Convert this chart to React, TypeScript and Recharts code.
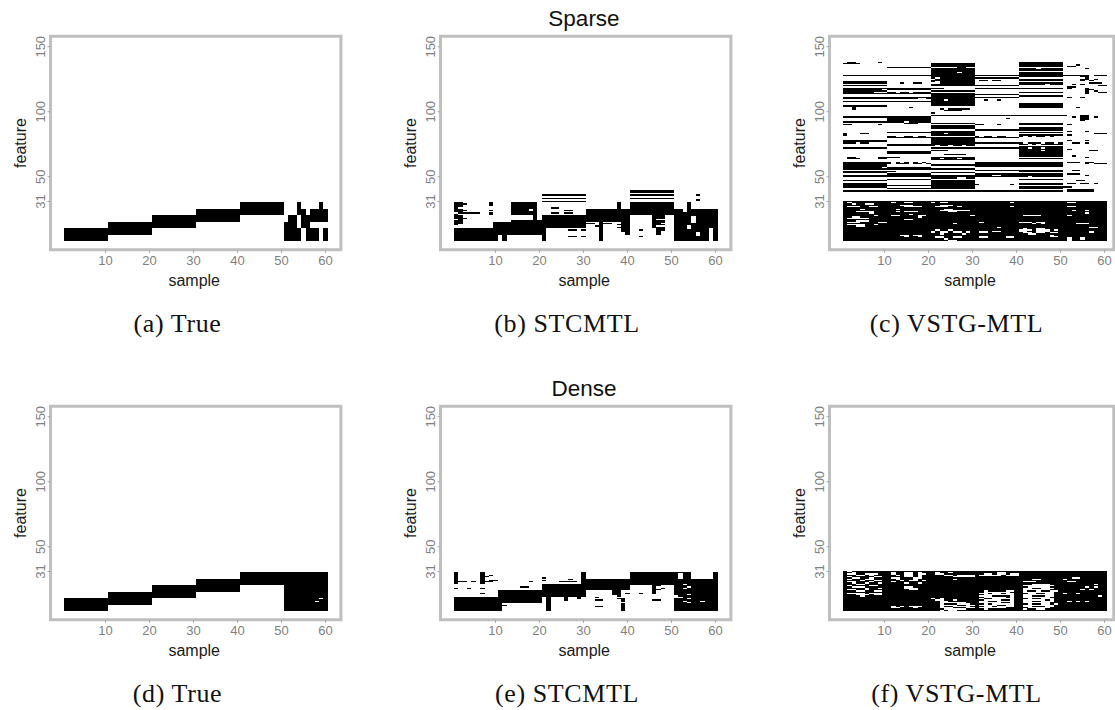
import React from "react";
import { ComposedChart, XAxis, YAxis, ReferenceArea, Label } from "recharts";

// Axis ticks
const SAMPLE_TICKS = [10, 20, 30, 40, 50, 60];
const FEATURE_TICKS = [31, 50, 100, 150];
const X_MIN = -2.5;
const X_MAX_BY_COL = [63.5, 63.5, 62.1]; // right-hand panels are cropped a little tighter
const Y_DOMAIN: [number, number] = [-6.2, 158.1];
const PX_PER_SAMPLE = 4.4;

// Binary support matrices. One string per feature, from the top feature down to feature 1.
// Each token covers 10 samples: "0" = all empty, "1" = all selected, otherwise per-sample (#/.)
const TRUE_SPARSE = [
  "0 0 0 0 1 ...#....#.", "0 0 0 0 1 ...#....#.", "0 0 0 0 1 ...#....#.", "0 0 0 0 1 ...#....#.", "0 0 0 0 1 ...#....#.",
  "0 0 0 1 1 ...##.####", "0 0 0 1 1 ...##.####", "0 0 0 1 1 ...##.####", "0 0 0 1 1 ...##.####", "0 0 0 1 1 ...##.####",
  "0 0 1 1 0 .##.######", "0 0 1 1 0 .##.######", "0 0 1 1 0 .##.######", "0 0 1 1 0 .##.######", "0 0 1 1 0 .##.######",
  "0 1 1 0 0 ###.##....", "0 1 1 0 0 ###.##....", "0 1 1 0 0 ###.##....", "0 1 1 0 0 ###.##....", "0 1 1 0 0 ###.##....",
  "1 1 0 0 0 ####.###.#", "1 1 0 0 0 ####.###.#", "1 1 0 0 0 ####.###.#", "1 1 0 0 0 ####.###.#", "1 1 0 0 0 ####.###.#",
  "1 0 0 0 0 ####.###.#", "1 0 0 0 0 ####.###.#", "1 0 0 0 0 ####.###.#", "1 0 0 0 0 ####.###.#", "1 0 0 0 0 ####.###.#",
];

const STCMTL_SPARSE = [
  "0 0 0 0 1 0",
  "0 0 0 0 1 0",
  "",
  "0 0 1 0 1 .....#....",
  "",
  "",
  "0 0 1 0 1 0",
  "0 0 0 0 0 .....#....",
  "0 0 1 0 0 0",
  "##......#. ...######. 0 .......#.. 1 ...#......",
  "###.....#. ...######. 0 .......#.. 1 ...#......",
  "##......#. ...######. 0 .......#.. 1 ...#......",
  "##........ ...######. 0 .......#.. 1 ...#......",
  "#......... ...######. ..##...... .......#.. 1 ...#......",
  "##........ ...####.#. 0 1 1 ##.#######",
  "###.....#. ...####.#. .....##... 1 1 ##.#######",
  "##........ ...######. 0 1 1 ##.#######",
  ".#####..#. ...######. ..##.##... 1 1 1",
  "#.......#. ...######. 0 1 1 1",
  "##........ ........#. 1 1 .....###.. 1",
  "##........ ........#. 1 1 .....###.. ####.#####",
  "###....... ........#. 1 1 .....###.. ####.#####",
  ".#........ ........#. 1 1 .....#.... ####.#####",
  "##........ ...####### 1 1 .....###.. ####.#####",
  "##.......# 1 1 ...#....## .....###.. ####.#####",
  "##.......# 1 1 ##.###..## .....##... 1",
  "#........# 1 1 ...#...### .....###.. 1",
  ".........# 1 1 ..##....## .....#.... ###.######",
  ".........# 1 1 ...#...### .....###.. ###.######",
  "1 1 #......... ...#....## ......##.. ###.####.#",
  "1 1 #.....##.# ...#....## ..#...##.. ########.#",
  "1 1 #......... ...#....## ......#... ########.#",
  "1 1 #......... ...#.....# ......#... #####.##.#",
  "1 1 #......... ...#.....# ......#... #####.##.#",
  "1 .#........ #......... ...#...... 0 #####.##.#",
  "1 .#........ #.....##.# ...#...... ..#....... ########.#",
  "1 .#........ #......... ...#...... 0 ########.#",
  "1 .#........ #......... ...#...... 0 ########.#",
  "1 .#........ #......... ...#...... 0 ########.#",
];

const VSTG_SPARSE = [
  ".##.....#. 0 0 0 1 0",
  "####...... 0 1 0 1 0",
  "0 0 1 0 1 ...#......",
  "0 0 1 0 1 .##.......",
  "0 1 ......##.. 0 0 0",
  "0 0 1 0 ####.##### .....#....",
  "0 0 1 0 1 0",
  "0 0 1 0 0 0",
  "0 0 ######.### 0 1 0",
  "0 0 1 0 1 0",
  "1 1 1 1 1 ######.###",
  "0 0 1 0 1 ....##....",
  "0 0 #.######## 1 0 .....#....",
  "0 0 .######### 0 1 ....##.#..",
  "0 0 1 .##.##.... 1 ....#.#...",
  "1 0 #.######## 0 0 0",
  "1 ...#..##.. ..######## 0 1 ......###.",
  "0 0 1 0 ######.### ..#.#.....",
  "1 0 1 1 0 ........##",
  "0 0 0 0 0 .##.......",
  "1 1 ###....... 1 1 .#...#....",
  "#########. 1 0 0 0 .....##...",
  "1 0 1 0 0 .....#.#..",
  "#######... ##.##.#### 0 0 1 .....#..##",
  "1 1 1 0 0 .....#....",
  "0 0 1 1 0 0",
  "0 0 1 0 1 0",
  "1 1 1 1 0 .#..#.....",
  "1 #######..# 1 0 0 0",
  "0 0 ###.###### ..#..#.... 0 0",
  "1 1 1 0 0 0",
  "0 0 1 0 0 0",
  "0 0 1 0 1 0",
  "1 0 1 0 1 0",
  "1 0 0 0 1 0",
  "..#....... .....#.... 0 0 1 ...#......",
  "..#....... 0 ..#.#####. 0 0 0",
  "0 0 ...####... 0 0 0",
  "",
  "0 0 #......... 0 0 0",
  "",
  "0 0 1 1 1 #...##....",
  "1 1 0 0 0 ..#.##.#..",
  "0 1 0 .......#.. 0 ....##....",
  "0 1 0 0 0 ....##....",
  "0 1 0 0 0 ....#.....",
  "1 ####.##### 0 0 0 0",
  "0 ....###... 1 0 1 0",
  "##......#. 0 0 ##...#.... 1 .#........",
  "0 0 1 0 0 0",
  "0 0 1 0 1 0",
  "0 0 1 0 1 0",
  "0 0 0 1 1 0",
  "0 0 1 0 0 .#...#....",
  "0 1 1 0 1 0",
  "#...##.... 0 ###.###### 0 0 .......###",
  "#......... 0 1 0 1 .#........",
  "0 ##..##.##. 0 #.##.##... #.#.##.#.. 0",
  "0 1 1 1 0 0",
  "0 0 1 0 0 0",
  "1 0 1 0 0 .#...#....",
  "1 0 1 0 0 0",
  "###.##.... 0 1 1 #.###.##.# ..##.#....",
  "0 1 1 0 ##.#.##### 0",
  "0 1 #.##.##.## 0 0 0",
  "0 0 0 0 1 0",
  "1 0 1 1 ##.##.#### 0",
  "0 0 0 0 1 .#........",
  "0 0 ####...... 0 #####.#### ......##..",
  "0 1 0 0 1 0",
  "0 1 0 0 1 0",
  "0 0 ...#####.. 0 1 0",
  "0 0 0 0 1 ..#.......",
  ".##.....## ###....... 1 0 0 .....#....",
  ".###....## 0 ##.###.### 0 1 0",
  "0 0 1 0 0 0",
  "",
  "1 #.#.#.#.#. 0 1 1 .###.##...",
  "1 #.###.##.# 0 1 1 .....#.###",
  "1 0 1 1 1 0",
  "1 0 0 1 1 0",
  "#########. 1 0 0 0 0",
  "1 1 1 0 0 0",
  "0 0 0 1 1 ..##......",
  "1 ##........ 0 0 1 0",
  "1 0 1 0 0 0",
  "0 1 0 1 1 .###......",
  "1 1 1 ####..#### 1 .....#....",
  "1 1 1 1 ##.####### 0",
  "0 0 ######..## 0 0 0",
  "0 1 0 0 1 0",
  "1 0 1 0 0 ...##.....",
  "0 0 1 0 0 0",
  "1 0 1 0 1 .##.##.#..",
  "1 0 1 #.......#. 1 0",
  "1 1 1 0 0 0",
  "1 0 1 0 1 ##........",
  "0 1 1 0 1 0",
  "0 0 0 0 0 .######...",
  "1 1 1 1 1 .######...",
  "", "", "", "", "", "", "",
  "1 1 1 1 1 1",
  "#.######## #.##..#### .#..###### ########.# 1 #..#######",
  "##.##..### 1 1 1 1 1",
  "1 ###...#### ##...##### 1 1 1",
  "#...##..## ####....## #...##.### ########.# 1 #..#######",
  "1 1 1 1 1 1",
  "####.##### ##.####### ###..##### 1 1 1",
  "1 1 ##.......# 1 1 ##.##.####",
  "###....### ##.#...### ####..#### 1 1 1",
  "######.### 1 1 1 1 #####.####",
  "1 #####.#### 1 1 1 1",
  "#######.## #..####..# #########. 1 #....##### #.########",
  "##..###### #######.## 1 1 1 1",
  "#.....#### 1 1 1 1 1",
  "1 ####..#### 1 1 1 1",
  "###...#### 1 1 1 1 1",
  "#...####.. 1 1 #.######## ...#..#### 1",
  "1 1 #####.#### 1 ###.#.#### ###...####",
  "#....##.## 1 1 1 1 1",
  "###..##### 1 1 1 1 1",
  "1 1 1 #####.#### 1 ######..##",
  "1 1 1 1 #.##..#### 1",
  "1 1 #.##.##### 1 ...#...#.# 1",
  "1 1 .#..#..#.# #..#..#### ..##...### ######.###",
  "1 1 .#..#..#.# #..####### #..#..#..# ######.###",
  "1 1 ##.####.## 1 ##..###### 1",
  "1 ###..#..## 1 1 #######.## 1",
  "1 ####.##.## #..##..### #..####..# #######..# 1",
  "1 1 #..##..### #..####..# 1 #.##.#####",
  "1 1 ###.###### 1 1 #.##.#####",
  "1 1 ####..#### 1 1 #.########",
];

const TRUE_DENSE = [
  "0 0 0 0 1 1", "0 0 0 0 1 1", "0 0 0 0 1 1", "0 0 0 0 1 1", "0 0 0 0 1 1",
  "0 0 0 1 1 1", "0 0 0 1 1 1", "0 0 0 1 1 1", "0 0 0 1 1 1", "0 0 0 1 1 1",
  "0 0 1 1 0 1", "0 0 1 1 0 1", "0 0 1 1 0 1", "0 0 1 1 0 1", "0 0 1 1 0 1",
  "0 1 1 0 0 1", "0 1 1 0 0 1", "0 1 1 0 0 1", "0 1 1 0 0 1", "0 1 1 0 0 1",
  "1 1 0 0 0 ########.#", "1 1 0 0 0 1", "1 1 0 0 0 #######.##", "1 1 0 0 0 1", "1 1 0 0 0 1",
  "1 0 0 0 0 1", "1 0 0 0 0 1", "1 0 0 0 0 1", "1 0 0 0 0 1", "1 0 0 0 0 1",
];

const STCMTL_DENSE = [
  "#.....#... 0 .........# 0 1 ####.....#",
  "#.....#... 0 .........# 0 1 #.##.....#",
  "#.....#.#. 0 .........# 0 1 #.##.....#",
  "#.....##.. 0 .........# 0 1 #.##.....#",
  "#.....#... 0 #........# 0 1 #.##.....#",
  "#.....#... 0 ......#..# 1 1 1",
  "#.....#.## 0 #........# 1 1 1",
  "###.#.###. .......#.. ....####.# 1 1 1",
  "#.....#... 0 .........# 1 1 1",
  "0 0 1 1 1 ##.#######",
  "0 0 1 1 .....##... 1",
  "0 .....##... 1 1 .....#.... ###.######",
  "#..#..#... 0 1 1 .....#.#.. ##.#######",
  "0 0 1 1 .....##... 1",
  "0 1 1 ......##.. .....#.... 1",
  "0 1 1 ......##.. .....#.... 1",
  "......#... 1 1 ......##.# ..#..#.... 1",
  "0 1 1 ......##.. 0 ###.######",
  "0 1 1 .......#.. 0 .#########",
  "1 1 .#...#..#. ..#....... 0 ..########",
  "1 1 .#...#..#. .......##. 0 ###.######",
  "1 1 .#...#.... ..##....#. .....##... 1",
  "1 1 .#........ ........#. 0 ##.###.###",
  "1 1 .#........ 0 0 ###.######",
  "1 #......... .#........ ........#. 0 1",
  "1 ##........ .#........ ........#. 0 1",
  "1 #......... .#........ ..##....#. 0 1",
  "1 #......... .#........ ........#. 0 1",
  "1 #......... .#........ ........#. 0 1",
  "1 #......... .#........ ........#. 0 1",
];

const VSTG_DENSE = [
  "#.######## 1 1 1 1 1",
  "##.####### #.##..#.## #.##.##### #####..### 1 1",
  "#..##...## #.##..#..# #..####### ##..#..#.. 1 1",
  "###..#.### ##.#..#.## ###..#.... #.....#... 1 1",
  "#.#####..# ####..#.## #####..... 1 1 1",
  "##..##.### #..###..## 1 1 1 ##..######",
  "#.###..### ##.###.### #####.#### 1 ###..##### .#########",
  "####.##..# ###.#..#.# 1 1 1 1",
  "#..###.### #.######## 1 1 #...###### #..#######",
  "##.##.##.# ####.##.## 1 1 1 1",
  "###..##### 1 1 1 ###....### #######.##",
  "#.####..## 1 1 1 #.......## 1",
  "##...##### ####..#### 1 1 ##.....### #####.#.##",
  "#####.##.# ####...### 1 1 #..##...## 1",
  "#..##.#### #####..### 1 1 #......### ####.#.###",
  "###..##..# 1 1 ##.####..# #.##.##..# 1",
  "1 1 1 ##......## #.......## 1",
  "#....#...# 1 1 #..#..#..# ##..##..## .##.######",
  "###...#..# 1 1 ##.......# #.......## 1",
  "####.##### 1 1 #...####.# #..###..## ########.#",
  "1 1 1 ##.....#.# #......### 1",
  "1 1 .#.####### #.##.....# ##.##...## 1",
  "1 1 #..##.#### ##....##.# #.....#.## 1",
  "1 1 ##..###### #..##....# #..##...## #.#.#.####",
  "1 1 ##......## #.....##.# #......### 1",
  "1 1 ##.###...# ##.#.....# ##.##..#.# 1",
  "1 1 ##....##.. #....##..# #.......## 1",
  "1 #.#.#...## ##.##....# ##..#....# #..###..## 1",
  "1 #..###.### ##...###.. #......### ##.....### 1",
  "1 1 ###.....## ##.####### #.##..#### 1",
  "1 1 ##.#..#### 1 1 1",
];

const CAPTIONS = ["(a) True", "(b) STCMTL", "(c) VSTG-MTL", "(d) True", "(e) STCMTL", "(f) VSTG-MTL"];
const ROW_TITLES = ["Sparse", "Dense"];

const SANS = "'Liberation Sans', Arial, sans-serif";
const SERIF = "'Liberation Serif', 'Times New Roman', serif";

function expand(row: string): string {
  return row
    .split(/\s+/)
    .filter(Boolean)
    .map((t) => (t === "0" ? ".........." : t === "1" ? "##########" : t.padEnd(10, ".").slice(0, 10)))
    .join("");
}

type Cell = { x1: number; x2: number; y1: number; y2: number };

// runs of selected samples per feature, merged upward when identical
function toCells(rows: string[]): Cell[] {
  const out: Cell[] = [];
  let open = new Map<string, Cell>();
  const n = rows.length;
  for (let i = n - 1; i >= 0; i--) {
    const f = n - i;
    const s = expand(rows[i]);
    const next = new Map<string, Cell>();
    let a = 0;
    while (a < s.length) {
      if (s[a] !== "#") { a++; continue; }
      let b = a;
      while (b + 1 < s.length && s[b + 1] === "#") b++;
      const key = a + ":" + b;
      const prev = open.get(key);
      if (prev) {
        prev.y2 = f + 0.5;
        next.set(key, prev);
      } else {
        const c = { x1: a + 0.5, x2: b + 1.5, y1: f - 0.5, y2: f + 0.5 };
        out.push(c);
        next.set(key, c);
      }
      a = b + 1;
    }
    open = next;
  }
  return out;
}

const FeatureTick = (props: any) => {
  const { x, y, payload } = props;
  return (
    <text x={x} y={y} transform={`rotate(-90, ${x}, ${y})`} textAnchor="middle" fill="#7f7f7f" fontSize={13} fontFamily={SANS}>
      {payload.value}
    </text>
  );
};

const SampleTitle = (props: any) => {
  const vb = props.viewBox ?? { x: 50.5, y: 249.8, width: 290.3, height: 30 };
  return (
    <text x={vb.x + vb.width / 2 - 1.5} y={vb.y + 36} textAnchor="middle" fontSize={16} fill="#1a1a1a" fontFamily={SANS}>
      sample
    </text>
  );
};

const FeatureTitle = (props: any) => {
  const vb = props.viewBox ?? { x: 8.5, y: 36.2, width: 42, height: 213.6 };
  const x = vb.x + 17.5;
  const y = vb.y + vb.height / 2;
  return (
    <text x={x} y={y} transform={`rotate(-90, ${x}, ${y})`} textAnchor="middle" fontSize={16} fill="#1a1a1a" fontFamily={SANS}>
      feature
    </text>
  );
};

function Panel({ rows, left, top, xMax }: { rows: string[]; left: number; top: number; xMax: number }) {
  const cells = toCells(rows);
  const plotW = (xMax - X_MIN) * PX_PER_SAMPLE;
  const rightMargin = 360 - 50.5 - plotW;
  return (
    <div style={{ position: "absolute", left, top, width: 360, height: 300 }}>
      <ComposedChart width={360} height={300} margin={{ top: 36.2, right: rightMargin, bottom: 20.2, left: 8.5 }}>
        <XAxis
          type="number"
          dataKey="x"
          domain={[X_MIN, xMax]}
          ticks={SAMPLE_TICKS}
          interval={0}
          allowDataOverflow
          height={30}
          axisLine={false}
          tickSize={3}
          tickMargin={3}
          tickLine={{ stroke: "#a8a8a8" }}
          tick={{ fill: "#7f7f7f", fontSize: 13, fontFamily: SANS }}
        >
          <Label content={SampleTitle} />
        </XAxis>
        <YAxis
          type="number"
          dataKey="y"
          domain={Y_DOMAIN}
          ticks={FEATURE_TICKS}
          interval={0}
          allowDataOverflow
          width={42}
          axisLine={false}
          tickSize={3}
          tickMargin={2}
          tickLine={{ stroke: "#a8a8a8" }}
          tick={FeatureTick}
        >
          <Label content={FeatureTitle} />
        </YAxis>
        {cells.map((c, i) => (
          <ReferenceArea
            key={i}
            x1={c.x1}
            x2={c.x2}
            y1={c.y1}
            y2={c.y2}
            fill="#000"
            fillOpacity={1}
            stroke="none"
            shapeRendering="crispEdges"
          />
        ))}
        <ReferenceArea
          x1={X_MIN}
          x2={xMax}
          y1={Y_DOMAIN[0]}
          y2={Y_DOMAIN[1]}
          fill="none"
          stroke="#bfbfbf"
          strokeWidth={3}
          ifOverflow="visible"
        />
      </ComposedChart>
    </div>
  );
}

const PANEL_ROWS = [TRUE_SPARSE, STCMTL_SPARSE, VSTG_SPARSE, TRUE_DENSE, STCMTL_DENSE, VSTG_DENSE];
const COL_X = [0, 389.5, 779];
const ROW_Y = [0, 370];

export default function App() {
  return (
    <div style={{ position: "absolute", left: 0, top: 0, width: 1115, height: 710, overflow: "hidden", background: "#fff" }}>
      <svg width={1115} height={710} style={{ position: "absolute", left: 0, top: 0 }}>
        {ROW_TITLES.map((t, r) => (
          <text key={t} x={584} y={26 + ROW_Y[r]} textAnchor="middle" fontSize={22.5} fill="#111" fontFamily={SANS}>
            {t}
          </text>
        ))}
        {CAPTIONS.map((c, i) => (
          <text
            key={c + i}
            x={COL_X[i % 3] + 177.5}
            y={331.7 + ROW_Y[Math.floor(i / 3)]}
            textAnchor="middle"
            fontSize={26}
            letterSpacing={0.6}
            fill="#111"
            fontFamily={SERIF}
          >
            {c}
          </text>
        ))}
      </svg>
      {PANEL_ROWS.map((rows, i) => (
        <Panel
          key={i}
          rows={rows}
          left={COL_X[i % 3]}
          top={ROW_Y[Math.floor(i / 3)]}
          xMax={X_MAX_BY_COL[i % 3]}
        />
      ))}
    </div>
  );
}
